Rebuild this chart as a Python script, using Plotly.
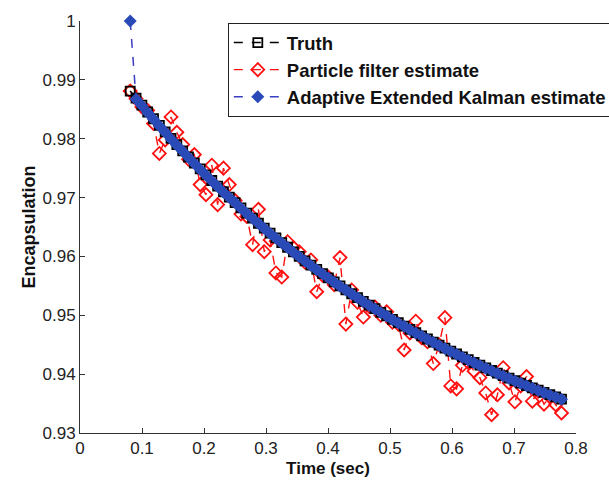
import plotly.graph_objects as go

time_sec = [0.0810, 0.0904, 0.0998, 0.1092, 0.1186, 0.1280, 0.1374, 0.1468, 0.1562, 0.1656,
            0.1750, 0.1844, 0.1938, 0.2032, 0.2126, 0.2220, 0.2314, 0.2408, 0.2502, 0.2596,
            0.2690, 0.2784, 0.2878, 0.2972, 0.3066, 0.3160, 0.3254, 0.3348, 0.3442, 0.3536,
            0.3630, 0.3724, 0.3818, 0.3912, 0.4006, 0.4100, 0.4194, 0.4288, 0.4382, 0.4476,
            0.4570, 0.4664, 0.4758, 0.4852, 0.4946, 0.5040, 0.5134, 0.5228, 0.5322, 0.5416,
            0.5510, 0.5604, 0.5698, 0.5792, 0.5886, 0.5980, 0.6074, 0.6168, 0.6262, 0.6356,
            0.6450, 0.6544, 0.6638, 0.6732, 0.6826, 0.6920, 0.7014, 0.7108, 0.7202, 0.7296,
            0.7390, 0.7484, 0.7578, 0.7672, 0.7766]

truth = [0.98809, 0.98689, 0.98570, 0.98454, 0.98339, 0.98227, 0.98116, 0.98006, 0.97899, 0.97793,
         0.97689, 0.97587, 0.97486, 0.97387, 0.97290, 0.97194, 0.97099, 0.97007, 0.96915, 0.96825,
         0.96737, 0.96650, 0.96564, 0.96480, 0.96397, 0.96315, 0.96235, 0.96156, 0.96078, 0.96002,
         0.95926, 0.95852, 0.95780, 0.95708, 0.95637, 0.95568, 0.95500, 0.95432, 0.95366, 0.95301,
         0.95237, 0.95174, 0.95112, 0.95051, 0.94991, 0.94932, 0.94874, 0.94817, 0.94761, 0.94705,
         0.94651, 0.94597, 0.94545, 0.94493, 0.94442, 0.94391, 0.94342, 0.94293, 0.94246, 0.94198,
         0.94152, 0.94107, 0.94062, 0.94017, 0.93974, 0.93931, 0.93889, 0.93848, 0.93807, 0.93767,
         0.93728, 0.93689, 0.93651, 0.93613, 0.93576]

particle_filter = [0.9881, 0.9868, 0.9854, 0.9848, 0.9826, 0.9775, 0.9798, 0.9837, 0.9811, 0.9790,
                   0.9765, 0.9773, 0.9722, 0.9705, 0.9755, 0.9688, 0.9750, 0.9722, 0.9695, 0.9672,
                   0.9668, 0.9620, 0.9680, 0.9608, 0.9628, 0.9572, 0.9565, 0.9625, 0.9615, 0.9608,
                   0.9590, 0.9594, 0.9540, 0.9568, 0.9565, 0.9552, 0.9598, 0.9485, 0.9543, 0.9522,
                   0.9497, 0.9515, 0.9514, 0.9500, 0.9506, 0.9488, 0.9485, 0.9441, 0.9470, 0.9490,
                   0.9462, 0.9455, 0.9418, 0.9450, 0.9496, 0.9380, 0.9375, 0.9415, 0.9420, 0.9405,
                   0.9394, 0.9368, 0.9331, 0.9365, 0.9411, 0.9385, 0.9353, 0.9380, 0.9396, 0.9354,
                   0.9371, 0.9349, 0.9362, 0.9348, 0.9334]

adaptive_ekf = [1.00000, 0.98672, 0.98561, 0.98441, 0.98330, 0.98215, 0.98108, 0.97995, 0.97890, 0.97786,
                0.97680, 0.97580, 0.97478, 0.97380, 0.97282, 0.97188, 0.97092, 0.97000, 0.96910, 0.96818,
                0.96730, 0.96644, 0.96560, 0.96474, 0.96390, 0.96310, 0.96228, 0.96150, 0.96072, 0.95996,
                0.95920, 0.95846, 0.95774, 0.95702, 0.95632, 0.95562, 0.95494, 0.95428, 0.95360, 0.95296,
                0.95232, 0.95168, 0.95106, 0.95046, 0.94986, 0.94926, 0.94868, 0.94812, 0.94756, 0.94700,
                0.94646, 0.94592, 0.94540, 0.94488, 0.94436, 0.94386, 0.94336, 0.94288, 0.94240, 0.94194,
                0.94148, 0.94102, 0.94058, 0.94012, 0.93970, 0.93926, 0.93884, 0.93844, 0.93802, 0.93762,
                0.93724, 0.93684, 0.93646, 0.93608, 0.93572]

x_ticks = [0, 0.1, 0.2, 0.3, 0.4, 0.5, 0.6, 0.7, 0.8]
x_tick_labels = ["0", "0.1", "0.2", "0.3", "0.4", "0.5", "0.6", "0.7", "0.8"]
y_ticks = [0.93, 0.94, 0.95, 0.96, 0.97, 0.98, 0.99, 1.0]
y_tick_labels = ["0.93", "0.94", "0.95", "0.96", "0.97", "0.98", "0.99", "1"]

FONT = "Liberation Sans, Arial, sans-serif"

fig = go.Figure()
fig.add_trace(go.Scatter(
    x=time_sec, y=particle_filter, name="<b>Particle filter estimate</b>", mode="lines+markers",
    line=dict(color="#ff1010", width=1.4, dash="dash"),
    marker=dict(symbol="diamond-open", size=10, color="#ff1010", line=dict(width=1.8)),
    legendgroup="b", legendrank=2, cliponaxis=False))
fig.add_trace(go.Scatter(
    x=time_sec, y=truth, name="<b>Truth</b>", mode="lines+markers",
    line=dict(color="black", width=1.5, dash="dash"),
    marker=dict(symbol="square-open", size=9, color="black", line=dict(width=1.8)),
    legendgroup="a", legendrank=1, cliponaxis=False))
fig.add_trace(go.Scatter(
    x=time_sec, y=adaptive_ekf, name="<b>Adaptive Extended Kalman estimate</b>", mode="lines+markers",
    line=dict(color="#3a3ec0", width=1.5, dash="dash"),
    marker=dict(symbol="diamond", size=10, color="#2a4ab8"),
    legendgroup="c", legendrank=3, cliponaxis=False))

axis_common = dict(
    showgrid=False, zeroline=False, showline=True, linecolor="#333333", linewidth=1,
    ticks="inside", ticklen=5, tickcolor="#333333", mirror=False,
    tickfont=dict(family=FONT, size=17, color="#222222"),
)

fig.update_layout(
    width=609, height=480,
    margin=dict(l=80, r=33, t=21, b=47, autoexpand=False),
    paper_bgcolor="white", plot_bgcolor="white",
    font=dict(family=FONT, color="#111111"),
    xaxis=dict(range=[0, 0.8], tickvals=x_ticks, ticktext=x_tick_labels,
               title=dict(text="<b>Time (sec)</b>", font=dict(family=FONT, size=17), standoff=4),
               **axis_common),
    yaxis=dict(range=[0.93, 1.0], tickvals=y_ticks, ticktext=y_tick_labels,
               title=dict(text="<b>Encapsulation</b>", font=dict(family=FONT, size=18), standoff=2),
               **axis_common),
    legend=dict(x=0.298, y=0.995, xanchor="left", yanchor="top",
                bgcolor="white", bordercolor="#222222", borderwidth=1,
                font=dict(family=FONT, size=18.5, color="#111111"),
                tracegroupgap=5, traceorder="normal", itemwidth=48),
    showlegend=True,
)

fig.write_html("out.html")
